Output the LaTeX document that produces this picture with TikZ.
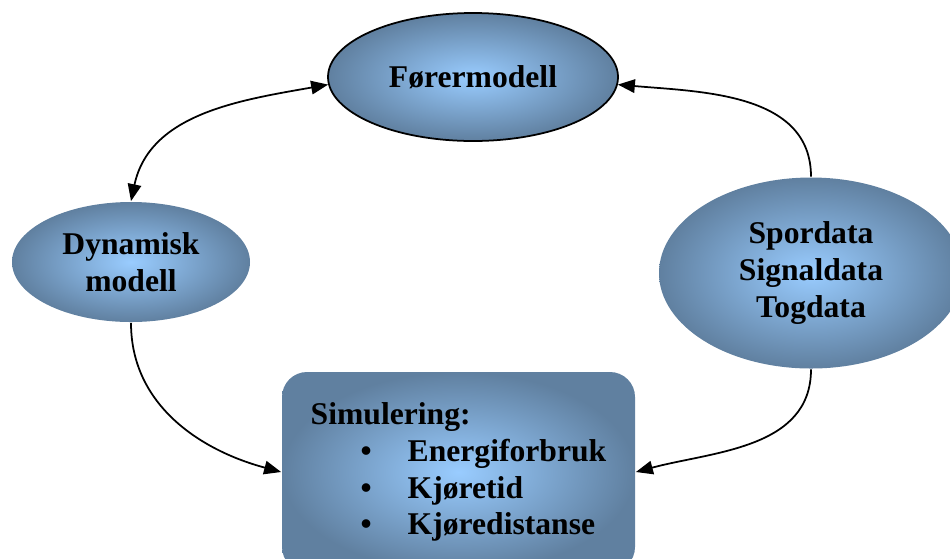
\documentclass[tikz,border=0pt]{standalone}
\usepackage{fontspec}
\setmainfont{Liberation Serif}
\usetikzlibrary{arrows.meta,shapes.geometric}

\definecolor{shadein}{RGB}{153,204,255}
\definecolor{shadeout}{RGB}{96,128,160}
\newcommand{\simitem}[1]{\hspace*{1cm}\makebox[0.94cm][l]{\textbullet}#1}

\begin{document}
\begin{tikzpicture}[->,>={Triangle[length=0.34cm,width=0.27cm]},line width=1pt,font=\fontsize{18}{21}\selectfont\bfseries]
\tikzstyle{blob}=[shape=ellipse,inner color=shadein,outer color=shadeout,align=center]
\tikzstyle{simbox}=[shape=rectangle,rounded corners=0.5cm,inner color=shadein,outer color=shadeout,align=left]
\useasboundingbox (0,0) rectangle (19,-11.16);
\node[blob,draw=black,minimum width=5.8cm,minimum height=2.56cm] (forer) at (9.46,-1.54) {Førermodell};
\node[blob,minimum width=4.76cm,minimum height=2.4cm] (dyn) at (2.62,-5.24) {Dynamisk\\modell};
\node[blob,minimum width=6.08cm,minimum height=3.82cm] (spor) at (16.22,-5.46) {Spordata\\Signaldata\\Togdata};
\node[simbox,minimum width=7.06cm,minimum height=4cm] (sim) at (9.17,-9.44) {Simulering:\\\simitem{Energiforbruk}\\\simitem{Kjøretid}\\\simitem{Kjøredistanse}};
\path (dyn.north) edge[<->,out=78,in=190] (forer.183)
	(spor.north) edge[out=90,in=-5] (forer.-3)
	(dyn.south) edge[out=-90,in=165] (sim.west)
	(spor.south) edge[out=-90,in=15] (sim.east);

\end{tikzpicture}
\end{document}
